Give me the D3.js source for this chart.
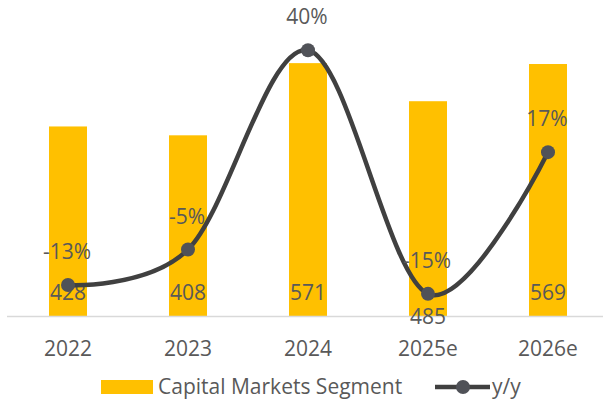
<!DOCTYPE html>
<html>
<head>
<meta charset="utf-8">
<script src="https://cdn.jsdelivr.net/npm/d3@7"></script>
<style>
  body { margin: 0; background: #fff; }
  text { font-family: "Open Sans", sans-serif; fill: #595959; }
</style>
</head>
<body>
<div id="main"></div>
<script>
// chart data
const years = ["2022", "2023", "2024", "2025e", "2026e"];
const segment = [428, 408, 571, 485, 569];
const growth = [-0.13, -0.05, 0.40, -0.15, 0.17];
const growthLabels = ["-13%", "-5%", "40%", "-15%", "17%"];
const legendNames = ["Capital Markets Segment", "y/y"];

const ctx = {
    w: 603,
    h: 403,
    left: 8,
    right: 608,
    top: 6,
    base: 316,
    barW: 38,
    gold: "#FFC000",
    lineCol: "#404040",
    dotCol: "#505258"
};

// the 2025e bar label sits lower, below the curve, like in the source
const barLabelShift = {"2025e": 24};

function createViz(){
    let svg = d3.select("#main").append("svg")
        .attr("width", ctx.w)
        .attr("height", ctx.h);

    let x = d3.scaleBand().domain(years).range([ctx.left, ctx.right]);
    let y = d3.scaleLinear().domain([0, 700]).range([ctx.base, ctx.top]);
    let y2 = d3.scaleLinear().domain([-0.2, 0.5]).range([ctx.base, ctx.top]);
    let cx = d => x(d) + x.bandwidth() / 2;

    // bars
    svg.append("g").selectAll("rect")
        .data(years)
        .enter()
        .append("rect")
        .attr("x", d => cx(d) - ctx.barW / 2)
        .attr("width", ctx.barW)
        .attr("y", (d, i) => y(segment[i]))
        .attr("height", (d, i) => ctx.base - y(segment[i]))
        .attr("fill", ctx.gold);

    // baseline axis
    svg.append("line")
        .attr("x1", ctx.left - 1).attr("x2", ctx.w)
        .attr("y1", ctx.base + 0.5).attr("y2", ctx.base + 0.5)
        .attr("stroke", "#D9D9D9")
        .attr("stroke-width", 1.5);

    // category labels
    svg.append("g").selectAll("text")
        .data(years)
        .enter()
        .append("text")
        .attr("x", d => cx(d))
        .attr("y", 356)
        .attr("text-anchor", "middle")
        .style("font-size", "21px")
        .text(d => d);

    // bar value labels
    svg.append("g").selectAll("text")
        .data(years)
        .enter()
        .append("text")
        .attr("x", d => cx(d))
        .attr("y", d => 300 + (barLabelShift[d] || 0))
        .attr("text-anchor", "middle")
        .style("font-size", "21px")
        .text((d, i) => segment[i]);

    // smoothed y/y line
    let pts = years.map((d, i) => [cx(d), y2(growth[i])]);
    let line = d3.line().curve(d3.curveCatmullRom.alpha(0));
    svg.append("path")
        .attr("d", line(pts))
        .attr("fill", "none")
        .attr("stroke", ctx.lineCol)
        .attr("stroke-width", 4.5);

    svg.append("g").selectAll("circle")
        .data(pts)
        .enter()
        .append("circle")
        .attr("cx", d => d[0])
        .attr("cy", d => d[1])
        .attr("r", 7)
        .attr("fill", ctx.dotCol);

    svg.append("g").selectAll("text")
        .data(pts)
        .enter()
        .append("text")
        .attr("x", d => d[0] - 1)
        .attr("y", d => d[1] - 26)
        .attr("text-anchor", "middle")
        .style("font-size", "21px")
        .text((d, i) => growthLabels[i]);

    // legend
    let lg = svg.append("g");
    lg.append("rect")
        .attr("x", 101).attr("y", 380)
        .attr("width", 52).attr("height", 14)
        .attr("fill", ctx.gold);
    lg.append("text")
        .attr("x", 158).attr("y", 394)
        .style("font-size", "21px")
        .text(legendNames[0]);
    lg.append("line")
        .attr("x1", 435).attr("x2", 490)
        .attr("y1", 387).attr("y2", 387)
        .attr("stroke", ctx.lineCol)
        .attr("stroke-width", 4.5);
    lg.append("circle")
        .attr("cx", 463).attr("cy", 387).attr("r", 7)
        .attr("fill", ctx.dotCol);
    lg.append("text")
        .attr("x", 492).attr("y", 394)
        .style("font-size", "21px")
        .text(legendNames[1]);
}

createViz();
</script>
</body>
</html>
